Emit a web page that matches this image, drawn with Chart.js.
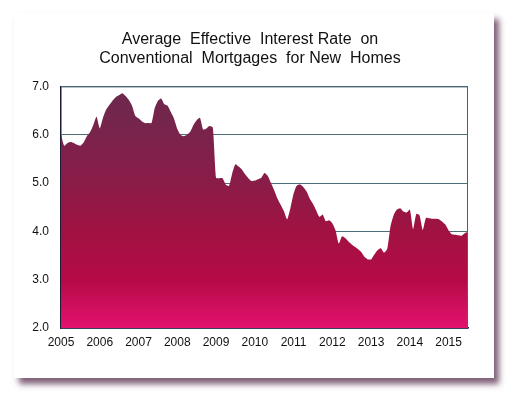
<!DOCTYPE html>
<html>
<head>
<meta charset="utf-8">
<script src="https://cdn.jsdelivr.net/npm/chart.js@4"></script>
<style>
  html, body { margin: 0; padding: 0; background: #fff; }
  body { width: 515px; height: 399px; position: relative; overflow: hidden; }
  .panel {
    position: absolute; left: 14px; top: 13px; width: 480px; height: 365px;
    background: #fff;
    box-shadow: 5px 6px 6px rgba(95, 55, 85, 0.8);
  }
  canvas { display: block; }
</style>
</head>
<body>
<div class="panel"><canvas id="myChart" width="480" height="365"></canvas></div>
<script>
// monthly rates, Jan 2005 .. Jul 2015
const startYear = 2005;
const rates = [
  6.01, 5.77, 5.83, 5.85, 5.83, 5.79, 5.77, 5.84, 5.97, 6.05, 6.20, 6.37,
  6.13, 6.35, 6.52, 6.62, 6.71, 6.78, 6.82, 6.86, 6.80, 6.72, 6.60, 6.39,
  6.34, 6.28, 6.24, 6.24, 6.24, 6.55, 6.70, 6.75, 6.63, 6.60, 6.47, 6.33,
  6.12, 6.00, 5.97, 6.00, 6.06, 6.20, 6.30, 6.35, 6.11, 6.13, 6.18, 6.15,
  5.11, 5.10, 5.10, 4.97, 4.94, 5.20, 5.39, 5.34, 5.28, 5.18, 5.10, 5.04,
  5.05, 5.08, 5.11, 5.21, 5.15, 5.00, 4.85, 4.68, 4.55, 4.42, 4.25, 4.48,
  4.78, 4.95, 4.97, 4.92, 4.83, 4.68, 4.57, 4.43, 4.30, 4.35, 4.21, 4.23,
  4.17, 4.02, 3.75, 3.90, 3.86, 3.79, 3.73, 3.68, 3.63, 3.57, 3.47, 3.42,
  3.42, 3.52, 3.61, 3.65, 3.56, 3.64, 4.10, 4.34, 4.45, 4.48, 4.41, 4.39,
  4.45, 4.05, 4.36, 4.33, 4.03, 4.28, 4.27, 4.26, 4.26, 4.25, 4.20, 4.14,
  4.02, 3.94, 3.93, 3.92, 3.91, 3.96, 3.99
];
const yTicks = [2, 3, 4, 5, 6, 7];
const titleLines = ["Average  Effective  Interest Rate  on", "Conventional  Mortgages  for New  Homes"];

function areaGradient(context) {
  const chart = context.chart;
  const area = chart.chartArea;
  if (!area) return "#9e1242";
  const g = chart.ctx.createLinearGradient(0, area.top, 0, area.bottom);
  g.addColorStop(0, "#6a2a4e");
  g.addColorStop(0.4, "#8a1c48");
  g.addColorStop(0.6, "#a11242");
  g.addColorStop(0.8, "#b50a47");
  g.addColorStop(1, "#e3126e");
  return g;
}

// top and right edge of the plot box
const frameBox = {
  id: "frameBox",
  afterDraw(chart) {
    const a = chart.chartArea;
    const c = chart.ctx;
    c.save();
    c.strokeStyle = "#45636e";
    c.lineWidth = 1;
    c.beginPath();
    c.moveTo(a.left, a.top + 0.5);
    c.lineTo(a.right - 0.5, a.top + 0.5);
    c.lineTo(a.right - 0.5, a.bottom);
    c.stroke();
    c.restore();
  }
};

new Chart(document.getElementById("myChart"), {
  type: "line",
  data: {
    datasets: [{
      data: rates.map((r, i) => ({ x: i, y: r })),
      fill: "start",
      backgroundColor: areaGradient,
      borderWidth: 0,
      pointRadius: 0,
      tension: 0.2
    }]
  },
  options: {
    responsive: false,
    animation: false,
    layout: { padding: { left: 18, right: 26, top: 0, bottom: 0 } },
    plugins: {
      legend: { display: false },
      tooltip: { enabled: false },
      title: {
        display: true,
        text: titleLines,
        color: "#111",
        font: { family: "Liberation Sans, Arial, sans-serif", size: 16, weight: "normal", lineHeight: 1.2 },
        padding: { top: 17, bottom: 18 }
      }
    },
    scales: {
      x: {
        type: "linear",
        min: 0,
        max: rates.length - 1,
        grid: { display: false, drawTicks: false },
        border: { color: "#1b1b3a", width: 1.5 },
        ticks: {
          stepSize: 12,
          includeBounds: false,
          autoSkip: false,
          maxRotation: 0,
          padding: 7,
          color: "#111",
          font: { family: "Liberation Sans, Arial, sans-serif", size: 12 },
          callback: v => (v % 12 === 0 ? String(startYear + v / 12) : "")
        },
        afterFit: s => { s.height = 50; }
      },
      y: {
        min: yTicks[0],
        max: yTicks[yTicks.length - 1],
        grid: { color: "#4d6d78", drawTicks: false, lineWidth: 1 },
        border: { color: "#1b1b3a", width: 1.5 },
        ticks: {
          stepSize: 1,
          padding: 12,
          color: "#111",
          font: { family: "Liberation Sans, Arial, sans-serif", size: 12 },
          callback: v => v.toFixed(1)
        },
        afterFit: s => { s.width = 29; }
      }
    }
  },
  plugins: [frameBox]
});
</script>
</body>
</html>
